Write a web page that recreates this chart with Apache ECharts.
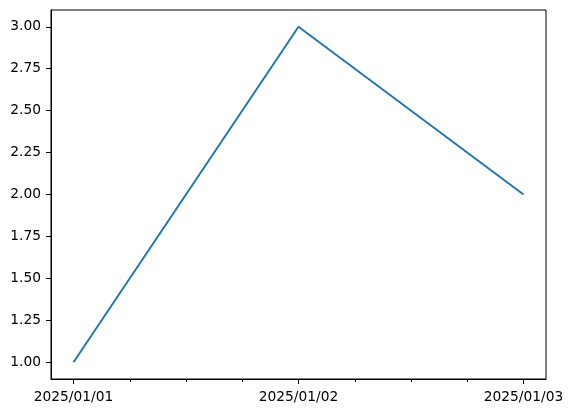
<!DOCTYPE html>
<html>
<head>
<meta charset="utf-8">
<script src="https://cdn.jsdelivr.net/npm/echarts@6/dist/echarts.min.js"></script>
<style>
  html, body { margin: 0; padding: 0; background: #fff; }
  #chart { width: 573px; height: 413px; }
</style>
</head>
<body>
<div id="chart"></div>
<script>
// data
var dates = ['2025/01/01', '2025/01/02', '2025/01/03'];
var values = [1, 3, 2];
var yTicks = [1, 1.25, 1.5, 1.75, 2, 2.25, 2.5, 2.75, 3];
var xMinorTicks = [0.25, 0.5, 0.75, 1.25, 1.5, 1.75];

var chart = echarts.init(document.getElementById('chart'));

var font = { fontFamily: 'DejaVu Sans', fontSize: 13.8, color: '#000' };
var points = values.map(function (v, i) { return [i, v]; });
var xMajor = dates.map(function (d, i) { return i; });

chart.setOption({
    animation: false,
    grid: {
        left: 51, right: 27, top: 10, bottom: 34,
        show: true, borderColor: '#000', borderWidth: 1
    },
    xAxis: [{
        type: 'value', min: -0.1, max: 2.1,
        splitLine: { show: false },
        axisLine: { show: true, onZero: false, lineStyle: { color: '#000' } },
        axisTick: { show: true, length: 5, customValues: xMajor, lineStyle: { color: '#000' } },
        axisLabel: Object.assign({
            customValues: xMajor, margin: 11,
            formatter: function (v) { return dates[Math.round(v)]; }
        }, font)
    }, {
        // minor ticks
        type: 'value', min: -0.1, max: 2.1, position: 'bottom',
        splitLine: { show: false },
        axisLine: { show: false, onZero: false },
        axisTick: { show: true, length: 3, customValues: xMinorTicks, lineStyle: { color: '#000' } },
        axisLabel: { show: false }
    }],
    yAxis: {
        type: 'value', min: 0.9, max: 3.1,
        splitLine: { show: false },
        axisLine: { show: true, onZero: false, lineStyle: { color: '#000' } },
        axisTick: { show: true, length: 5, customValues: yTicks, lineStyle: { color: '#000' } },
        axisLabel: Object.assign({
            customValues: yTicks, margin: 10,
            formatter: function (v) { return v.toFixed(2); }
        }, font)
    },
    series: [{
        type: 'line',
        data: points,
        showSymbol: false,
        lineStyle: { color: '#1f77b4', width: 2 },
        itemStyle: { color: '#1f77b4' }
    }]
});
</script>
</body>
</html>
